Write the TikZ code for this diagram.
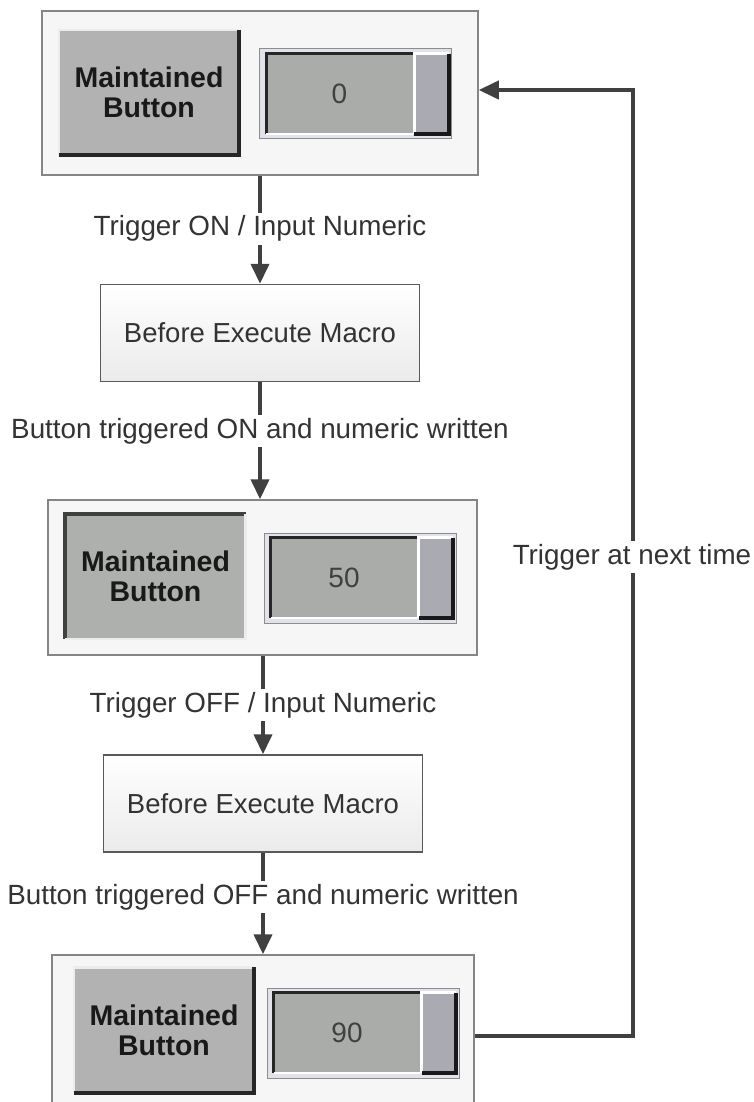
\documentclass[tikz,border=0pt]{standalone}
\usepackage{fontspec}
\setmainfont{Liberation Sans}
\usetikzlibrary{arrows.meta}
\definecolor{conncol}{HTML}{404040}
\definecolor{txtcol}{HTML}{333333}
\definecolor{panelfill}{HTML}{F6F6F6}
\definecolor{panelline}{HTML}{858585}
\definecolor{boxline}{HTML}{5A5A5A}
\definecolor{btnfill}{HTML}{B2B2B2}
\definecolor{btnfillb}{HTML}{ADB0AD}
\definecolor{dispfill}{HTML}{A9ACA8}
\definecolor{sidefill}{HTML}{AAAAB2}
\definecolor{framefill}{HTML}{E2E2EA}
\newcommand\mkNumeric[4]{%
  \node[numouter] (#1o) at (#2,#3) {};
  \node[numdisp] (#1d) at (#2-16,#3) {#4};
  \node[numside] (#1s) at (#2+76,#3) {};
  \draw[line width=3pt,draw=black!85] (#1d.south west) -- (#1d.north west) -- (#1d.north east);
  \draw[line width=2pt,draw=white] (#1d.south west) -- (#1d.south east);
  \draw[line width=3pt,draw=white] (#1s.south west) -- (#1s.north west) -- (#1s.north east);
  \draw[line width=4pt,draw=black!90] (#1s.north east) -- (#1s.south east) -- (#1s.south west);
}
\newcommand\mkButton[5]{%
  \node[btn,fill=#5] (#1) at (#2,#3) {Maintained\\Button};
  \ifx#4r
    \draw[line width=2.5pt,draw=white!85!gray] (#1.south west) -- (#1.north west) -- (#1.north east);
    \draw[line width=4pt,draw=black!85] (#1.north east) -- (#1.south east) -- (#1.south west);
  \else
    \draw[line width=4pt,draw=black!75] (#1.south west) -- (#1.north west) -- (#1.north east);
    \draw[line width=2.5pt,draw=white!85!gray] (#1.north east) -- (#1.south east) -- (#1.south west);
  \fi
}
\begin{document}
\begin{tikzpicture}[x=1pt,y=-1pt,
  panel/.style={draw=panelline,fill=panelfill,line width=1.5pt,inner sep=0pt},
  macrobox/.style={draw=boxline,line width=1.5pt,top color=white,bottom color=black!8,
    minimum width=319pt,minimum height=97pt,inner sep=0pt,text=txtcol,
    font=\fontsize{27.5}{30}\selectfont},
  btn/.style={minimum width=180pt,minimum height=125pt,inner sep=0pt,align=center,
    text=black!90,font=\fontsize{28.5}{30}\selectfont\bfseries},
  numouter/.style={draw=black!45,line width=1pt,fill=framefill,minimum width=192pt,minimum height=90pt,inner sep=0pt},
  numdisp/.style={fill=dispfill,minimum width=146pt,minimum height=80pt,inner sep=0pt,
    text=black!75,font=\fontsize{28}{30}\selectfont},
  numside/.style={fill=sidefill,minimum width=34pt,minimum height=80pt,inner sep=0pt},
  conn/.style={draw=conncol,line width=4pt,-{Triangle[length=20pt,width=18pt]}},
  lbl/.style={fill=white,text=txtcol,inner sep=3pt,font=\fontsize{27.8}{30}\selectfont}]
\useasboundingbox (0,0) rectangle (753,1102);
\clip (0,0) rectangle (753,1102);
\fill[white] (0,0) rectangle (753,1102);

% panels
\node[panel,minimum width=436pt,minimum height=164pt] (p1) at (260,93) {};
\node[panel,minimum width=429pt,minimum height=155pt] (p2) at (262.5,577.5) {};
\node[panel,minimum width=422pt,minimum height=170pt] (p3) at (263,1040) {};

\mkButton{b1}{149}{92.5}{r}{btnfill}
\mkNumeric{n1}{355.5}{94}{0}
\mkButton{b2}{155.5}{576.5}{s}{btnfillb}
\mkNumeric{n2}{360}{578}{50}
\mkButton{b3}{164}{1030}{r}{btnfill}
\mkNumeric{n3}{363}{1033}{90}

% macro boxes
\node[macrobox] (m1) at (260,333) {Before Execute Macro};
\node[macrobox] (m2) at (263,803.5) {Before Execute Macro};

% connectors
\draw[conn] (p1.south -| m1.north) -- node[lbl,pos=0.49] {Trigger ON / Input Numeric} (m1.north);
\draw[conn] (m1.south) -- node[lbl,pos=0.42] {Button triggered ON and numeric written} (m1.south |- p2.north);
\draw[conn] (m2.north |- p2.south) -- node[lbl,pos=0.5] {Trigger OFF / Input Numeric} (m2.north);
\draw[conn] (m2.south) -- node[lbl,pos=0.44] {Button triggered OFF and numeric written} (m2.south |- p3.north);

\coordinate (fbr) at (633,1036);
\coordinate (fbt) at (633,90);
\draw[conn] (p3.east |- fbr) -- (fbr) -- (fbt) -- (p1.east |- fbt);
\node[lbl] (lfb) at (632,557) {Trigger at next time};
\end{tikzpicture}
\end{document}
